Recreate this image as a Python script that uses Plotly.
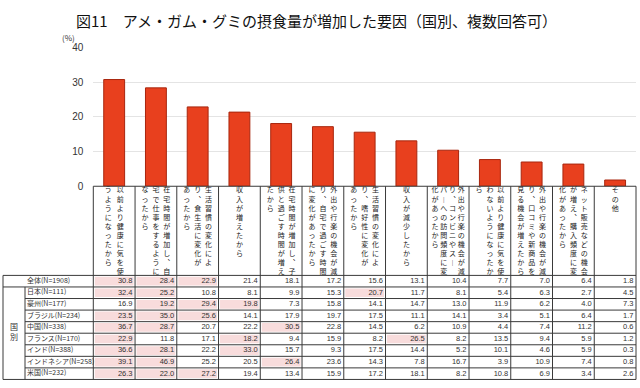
import plotly.graph_objects as go

# ---------------- data ----------------
title_text = "図11　アメ・ガム・グミの摂食量が増加した要因（国別、複数回答可）"
unit_text = "(%)"

categories = [
    "以前より健康に気を使うようになったから",
    "在宅時間が増加し、自宅で仕事をするようになったから",
    "生活習慣の変化により、食生活に変化があったから",
    "収入が増えたから",
    "在宅時間が増加し、子供と過ごす時間が増えたから",
    "外出や行楽の機会が減り、自宅で過ごす時間に変化があったから",
    "生活習慣の変化により、嗜好性に変化があったから",
    "収入が減少したから",
    "外出や行楽の機会が減り、コンビニやスーパーへの訪問頻度に変化があったから",
    "以前より健康に気を使わないようになったから",
    "外出や行楽の機会が減り、口コミや新商品を見る機会が増えたから",
    "ネット販売などの機会が増え、購入頻度に変化があったから",
    "その他",
]

overall_label = "全体(N=1908)"
overall_values = [30.8, 28.4, 22.9, 21.4, 18.1, 17.2, 15.6, 13.1, 10.4, 7.7, 7.0, 6.4, 1.8]

group_label = "国別"
country_labels = [
    "日本(N=111)", "豪州(N=177)", "ブラジル(N=234)", "中国(N=338)",
    "フランス(N=170)", "インド(N=388)", "インドネシア(N=258)", "米国(N=232)",
]
japan = [32.4, 25.2, 10.8, 8.1, 9.9, 15.3, 20.7, 11.7, 8.1, 5.4, 6.3, 2.7, 4.5]
australia = [16.9, 19.2, 29.4, 19.8, 7.3, 15.8, 14.1, 14.7, 13.0, 11.9, 6.2, 4.0, 7.3]
brazil = [23.5, 35.0, 25.6, 14.1, 17.9, 19.7, 17.5, 11.1, 14.1, 3.4, 5.1, 6.4, 1.7]
china = [36.7, 28.7, 20.7, 22.2, 30.5, 22.8, 14.5, 6.2, 10.9, 4.4, 7.4, 11.2, 0.6]
france = [22.9, 11.8, 17.1, 18.2, 9.4, 15.9, 8.2, 26.5, 8.2, 13.5, 9.4, 5.9, 1.2]
india = [36.6, 28.1, 22.2, 33.0, 15.7, 9.3, 17.5, 14.4, 5.2, 10.1, 4.6, 5.9, 0.3]
indonesia = [39.1, 46.9, 25.2, 20.5, 26.4, 23.6, 14.3, 7.8, 16.7, 3.9, 10.9, 7.4, 0.8]
usa = [26.3, 22.0, 27.2, 19.4, 13.4, 15.9, 17.2, 18.1, 8.2, 10.8, 6.9, 3.4, 2.6]
country_values = [japan, australia, brazil, china, france, india, indonesia, usa]

y_ticks = [0, 10, 20, 30, 40]

# ---------------- layout constants (pixels) ----------------
W, H = 640, 388
PX0, PX1 = 93.3, 636.0          # plot / table column area
PY_TOP, PY0 = 43.0, 186.0       # y=40 and y=0
HDR_BOTTOM = 278.0
ROW_H = 11.93
T_LEFT, T_SPLIT = 3.0, 25.0
N = len(categories)
COLW = (PX1 - PX0) / N
LINE = "#3a3a3a"
PINK = "#F8DCDC"
BAR = "#E8401E"
BAR_EDGE = "#A8260E"
JP = "Noto Sans CJK JP"

fig = go.Figure()

# bars on the main category axis
fig.add_trace(go.Bar(
    x=categories, y=overall_values, width=0.5,
    marker=dict(color=BAR, line=dict(color=BAR_EDGE, width=1)),
    hoverinfo="skip", xaxis="x", yaxis="y",
))

shapes = []
def hline(x0, x1, y):
    shapes.append(dict(type="line", xref="x2", yref="y2", x0=x0, x1=x1, y0=y, y1=y,
                       line=dict(color=LINE, width=1)))
def vline(x, y0, y1):
    shapes.append(dict(type="line", xref="x2", yref="y2", x0=x, x1=x, y0=y0, y1=y1,
                       line=dict(color=LINE, width=1)))

rows_all = [overall_values] + country_values
row_labels = [overall_label] + country_labels
n_rows = len(rows_all)
T_BOTTOM = HDR_BOTTOM + n_rows * ROW_H

# pink highlight: top 3 per row
for r, vals in enumerate(rows_all):
    thr = sorted(vals, reverse=True)[2]
    y0 = HDR_BOTTOM + r * ROW_H
    for c, v in enumerate(vals):
        if v >= thr:
            x0 = PX0 + c * COLW
            shapes.append(dict(type="rect", xref="x2", yref="y2", layer="below",
                               x0=x0 + 1.5, x1=x0 + COLW - 1.5, y0=y0 + 1.5, y1=y0 + ROW_H - 1.5,
                               fillcolor=PINK, line=dict(width=0)))

# grid lines of header boxes and table
hline(PX0, PX1, PY0)
hline(T_LEFT, PX1, HDR_BOTTOM)
hline(T_LEFT, PX1, HDR_BOTTOM + ROW_H)
for r in range(2, n_rows):
    hline(T_SPLIT, PX1, HDR_BOTTOM + r * ROW_H)
hline(T_LEFT, PX1, T_BOTTOM)
vline(T_LEFT, HDR_BOTTOM, T_BOTTOM)
vline(T_SPLIT, HDR_BOTTOM + ROW_H, T_BOTTOM)
for c in range(N + 1):
    vline(PX0 + c * COLW, PY0, T_BOTTOM)

# vertical (tategaki) category labels, one text block per column
NO_START = set("、。ーっゃゅょッャュョァィゥェォ）")
VFORM = {"、": "︑", "ー": "︱", "（": "︵", "）": "︶"}
COL_SPACING = {1: 0, 2: 12.0, 3: 10.8, 4: 8.8}

def wrap_vertical(s, maxlen=10):
    cols = []
    i = 0
    while i < len(s):
        j = min(i + maxlen, len(s))
        while j < len(s) and s[j] in NO_START:
            j -= 1
        cols.append(s[i:j])
        i = j
    return cols

cx, cy, ct = [], [], []
for c, lab in enumerate(categories):
    cols = wrap_vertical(lab)
    center = PX0 + (c + 0.5) * COLW
    n = len(cols)
    sp = COL_SPACING.get(n, 8.8)
    for j, colstr in enumerate(cols):
        cx.append(center + ((n - 1) / 2 - j) * sp)
        cy.append(PY0 + 1.0)
        ct.append("<br>".join(VFORM.get(ch, ch) for ch in colstr))
fig.add_trace(go.Scatter(x=cx, y=cy, text=ct, mode="text", xaxis="x2", yaxis="y2",
                         textfont=dict(family=JP, size=7, color="#1a1a1a"),
                         textposition="bottom center", hoverinfo="skip", cliponaxis=False))

# table numbers
nx, ny, nt = [], [], []
for r, vals in enumerate(rows_all):
    yc = HDR_BOTTOM + (r + 0.5) * ROW_H
    for c, v in enumerate(vals):
        nx.append(PX0 + (c + 1) * COLW - 2.5)
        ny.append(yc)
        nt.append(f"{v:.1f}")
fig.add_trace(go.Scatter(x=nx, y=ny, text=nt, mode="text", xaxis="x2", yaxis="y2",
                         textfont=dict(family="Arial", size=7.5, color="#333"),
                         textposition="middle left", hoverinfo="skip", cliponaxis=False))

# row labels
lx, ly, lt = [], [], []
for r, lab in enumerate(row_labels):
    lx.append(T_SPLIT + 2.0)
    ly.append(HDR_BOTTOM + (r + 0.5) * ROW_H)
    lt.append(lab)
fig.add_trace(go.Scatter(x=lx, y=ly, text=lt, mode="text", xaxis="x2", yaxis="y2",
                         textfont=dict(family=JP, size=7, color="#333"),
                         textposition="middle right", hoverinfo="skip", cliponaxis=False))

# group label (vertical)
gmid = HDR_BOTTOM + ROW_H + (n_rows - 1) * ROW_H / 2
fig.add_trace(go.Scatter(x=[(T_LEFT + T_SPLIT) / 2], y=[gmid], text=["<br>".join(group_label)],
                         mode="text", xaxis="x2", yaxis="y2",
                         textfont=dict(family=JP, size=8, color="#333"),
                         textposition="middle center", hoverinfo="skip", cliponaxis=False))

annotations = [
    dict(text=title_text, xref="paper", yref="paper", x=74 / W, y=1 - 15 / H,
         xanchor="left", yanchor="middle", showarrow=False,
         font=dict(family=JP, size=15, color="#111")),
    dict(text=unit_text, xref="paper", yref="paper", x=60 / W, y=1 - 33 / H,
         xanchor="left", yanchor="middle", showarrow=False,
         font=dict(family=JP, size=8, color="#333")),
]

fig.update_layout(
    width=W, height=H, margin=dict(l=0, r=0, t=0, b=0),
    paper_bgcolor="white", plot_bgcolor="rgba(0,0,0,0)",
    showlegend=False, bargap=0.5,
    shapes=shapes, annotations=annotations,
    xaxis=dict(domain=[PX0 / W, PX1 / W], anchor="y", range=[-0.5, N - 0.5],
               showticklabels=False, showgrid=False, zeroline=False, showline=False, ticks=""),
    yaxis=dict(domain=[(H - PY0) / H, (H - PY_TOP) / H], anchor="x", range=[0, 40],
               tickvals=y_ticks, showgrid=True, gridcolor="#e4e4e4", gridwidth=1.2,
               zeroline=False, showline=False, ticks="", ticklabelstandoff=9,
               tickfont=dict(family="Arial", size=10, color="#333")),
    xaxis2=dict(domain=[0, 1], anchor="y2", range=[0, W], visible=False, fixedrange=True),
    yaxis2=dict(domain=[0, 1], anchor="x2", range=[H, 0], visible=False, fixedrange=True),
)

fig.write_html("out.html", config={"responsive": False, "displayModeBar": False},
               post_script="document.body.style.margin='0';document.body.style.overflow='hidden';")
